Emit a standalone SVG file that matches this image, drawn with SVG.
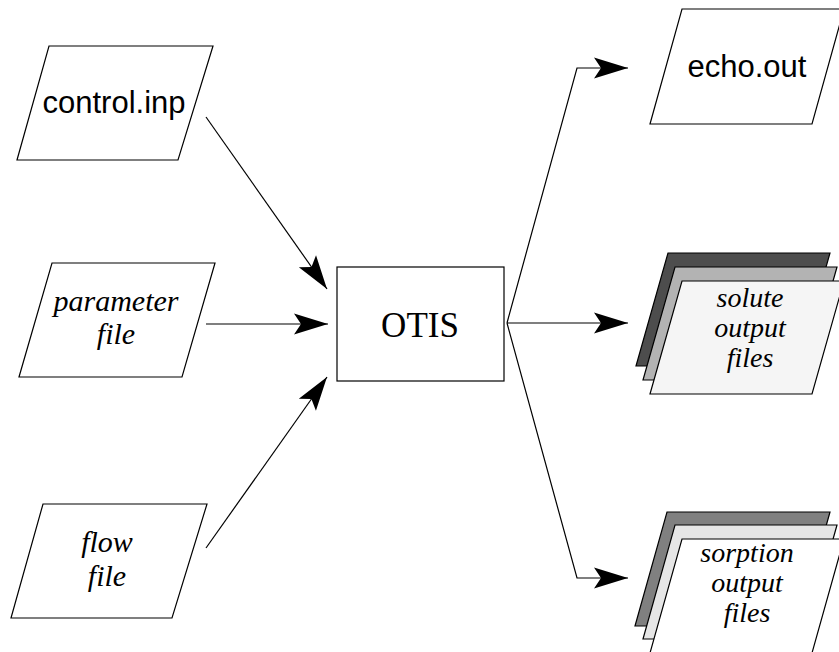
<svg xmlns="http://www.w3.org/2000/svg" width="839" height="652" viewBox="0 0 839 652">
<style>
.shape{stroke:#000;stroke-width:1.2;stroke-linejoin:miter}
.conn{fill:none;stroke:#000;stroke-width:1.2}
.sans{font-family:"Liberation Sans",Arial,sans-serif;font-size:31px;fill:#000;text-anchor:middle}
.ital{font-family:"Liberation Serif","Times New Roman",serif;font-style:italic;font-size:30px;fill:#000;text-anchor:middle}
.ital2{font-family:"Liberation Serif","Times New Roman",serif;font-style:italic;font-size:28px;fill:#000;text-anchor:middle}
.rom{font-family:"Liberation Serif","Times New Roman",serif;font-size:35px;fill:#000;text-anchor:middle}
</style>
<defs>
<marker id="ah" markerUnits="userSpaceOnUse" markerWidth="40" markerHeight="26" viewBox="-35 -13 40 26" refX="0" refY="0" orient="auto">
<path d="M0,0 L-34,-10.5 L-27,0 L-34,10.5 Z" fill="#000"/>
</marker>
</defs>
<rect width="839" height="652" fill="#fff"/>
<g id="connectors">
<line class="conn" x1="206" y1="117" x2="327" y2="289" marker-end="url(#ah)"/>
<line class="conn" x1="206" y1="324" x2="328" y2="324" marker-end="url(#ah)"/>
<line class="conn" x1="206" y1="548" x2="327" y2="377" marker-end="url(#ah)"/>
<polyline class="conn" points="507,323 577,68 628,68" marker-end="url(#ah)"/>
<polyline class="conn" points="507,323 628,323" marker-end="url(#ah)"/>
<polyline class="conn" points="507,323 577,578 628,578" marker-end="url(#ah)"/>
</g>
<g id="control-inp">
<polygon class="shape" fill="#fff" points="49,46 213,46 178,160 17,160"/>
<text class="sans" x="114" y="113">control.inp</text>
</g>
<g id="parameter-file">
<polygon class="shape" fill="#fff" points="52,263 215,263 182,377 19,377"/>
<text class="ital" x="116" y="311">parameter</text>
<text class="ital" x="116" y="344">file</text>
</g>
<g id="flow-file">
<polygon class="shape" fill="#fff" points="43,504 207,504 172,618 11,618"/>
<text class="ital" x="107" y="552">flow</text>
<text class="ital" x="107" y="586">file</text>
</g>
<g id="otis">
<rect class="shape" fill="#fff" x="337" y="267" width="167" height="114"/>
<text class="rom" x="420" y="337">OTIS</text>
</g>
<g id="echo-out">
<polygon class="shape" fill="#fff" points="682,9 844,9 812,124 650,124"/>
<text class="sans" x="747" y="77">echo.out</text>
</g>
<g id="solute-output-files">
<polygon class="shape" fill="#4d4d4d" points="668,253 830,253 798,366 636,366"/>
<polygon class="shape" fill="#b3b3b3" points="675,267 837,267 805,380 643,380"/>
<polygon class="shape" fill="#f5f5f5" points="682,281 844,281 812,394 650,394"/>
<text class="ital2" x="750" y="307">solute</text>
<text class="ital2" x="750" y="337">output</text>
<text class="ital2" x="750" y="367">files</text>
</g>
<g id="sorption-output-files">
<polygon class="shape" fill="#808080" points="667,512 830,512 798,626 635,626"/>
<polygon class="shape" fill="#e6e6e6" points="675,525 837,525 805,639 643,639"/>
<polygon class="shape" fill="#fff" points="682,539 844,539 812,653 650,653"/>
<text class="ital2" x="747" y="562">sorption</text>
<text class="ital2" x="747" y="592">output</text>
<text class="ital2" x="747" y="622">files</text>
</g>
</svg>
